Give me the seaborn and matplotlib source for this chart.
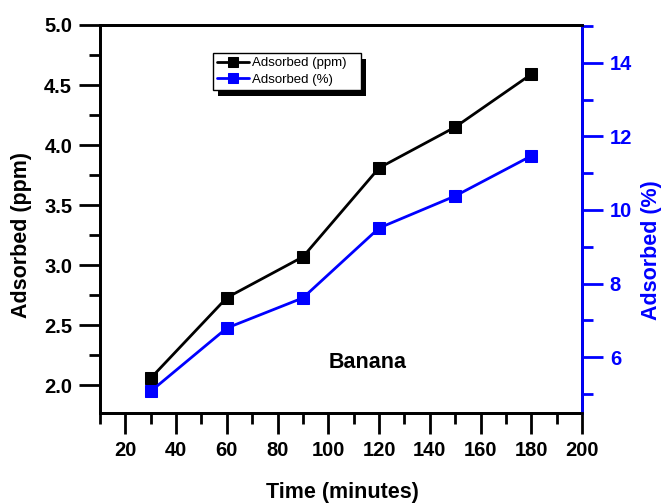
import matplotlib
matplotlib.use("Agg")
import matplotlib.pyplot as plt
import seaborn as sns
import pandas as pd
from matplotlib.ticker import MultipleLocator
from matplotlib.patches import Rectangle
from matplotlib.transforms import IdentityTransform

time_min = [30, 60, 90, 120, 150, 180]
adsorbed_ppm = [2.06, 2.73, 3.07, 3.81, 4.15, 4.59]
adsorbed_pct = [5.07, 6.79, 7.61, 9.51, 10.38, 11.47]

sns.set_style("ticks")
plt.rcParams['font.family'] = ['Liberation Sans', 'DejaVu Sans']
plt.rcParams['text.color'] = 'black'
plt.rcParams['axes.labelcolor'] = 'black'
plt.rcParams['xtick.color'] = 'black'
plt.rcParams['ytick.color'] = 'black'

BLUE = "#0000ff"
df = pd.DataFrame({"time": time_min, "ppm": adsorbed_ppm, "pct": adsorbed_pct})

fig = plt.figure(figsize=(6.62, 5.04), dpi=100)
ax = fig.add_axes([100/662, 1-413/504, 482/662, 388/504])
ax2 = ax.twinx()

sns.lineplot(data=df, x="time", y="ppm", ax=ax, color="black", marker="s",
             markersize=8, markeredgecolor="black", linewidth=2, label="Adsorbed (ppm)", legend=False)
sns.lineplot(data=df, x="time", y="pct", ax=ax2, color=BLUE, marker="s",
             markersize=8, markeredgecolor=BLUE, linewidth=2, label="Adsorbed (%)", legend=False)

ax.set_xlim(10, 200)
ax.set_ylim(1.77, 5.0)
ax2.set_ylim(4.48, 15.03)

ax.xaxis.set_minor_locator(MultipleLocator(10))
ax.yaxis.set_minor_locator(MultipleLocator(0.25))
ax2.yaxis.set_minor_locator(MultipleLocator(1))

ax.set_xticks([20, 40, 60, 80, 100, 120, 140, 160, 180, 200])
ax.set_yticks([2.0, 2.5, 3.0, 3.5, 4.0, 4.5, 5.0])
ax2.set_yticks([6, 8, 10, 12, 14])

for a in (ax, ax2):
    for s in a.spines.values():
        s.set_linewidth(2)
        s.set_color("black")
        s.set_visible(True)
ax2.spines['right'].set_color(BLUE)

TS = 14.5
ax.tick_params(axis='both', which='major', direction='out', length=15, width=2,
               labelsize=TS, pad=5, colors='black')
ax.tick_params(axis='both', which='minor', direction='out', length=8, width=2, colors='black')
ax2.tick_params(axis='y', which='major', direction='out', length=15, width=2,
                labelsize=TS, colors=BLUE, pad=5)
ax2.tick_params(axis='y', which='minor', direction='out', length=8, width=2, colors=BLUE)

for lab in ax.get_xticklabels() + ax.get_yticklabels() + ax2.get_yticklabels():
    lab.set_fontweight('bold')

LS = 15.5
ax.set_xlabel("Time (minutes)", fontsize=LS, fontweight='bold')
ax.set_ylabel("Adsorbed (ppm)", fontsize=LS, fontweight='bold')
ax2.set_ylabel("Adsorbed (%)", fontsize=LS, fontweight='bold', color=BLUE)
ax.xaxis.set_label_coords(0.502, -0.204)
ax.yaxis.set_label_coords(-0.162, 0.459)
ax2.yaxis.set_label_coords(1.145, 0.42)
ax.xaxis.label.set_va('center')
ax.yaxis.label.set_va('center')
ax2.yaxis.label.set_va('center')

ax.text(115.6, 2.19, "Banana", fontsize=15.5, fontweight='bold', ha='center', va='center')

h1, l1 = ax.get_legend_handles_labels()
h2, l2 = ax2.get_legend_handles_labels()
leg = ax2.legend(h1 + h2, [l + "   " for l in l1 + l2], loc='upper left',
                 bbox_to_anchor=(213/662, 1-53/504),
                 bbox_transform=fig.transFigure, fontsize=9.5, frameon=True, fancybox=False,
                 edgecolor='black', framealpha=1, handlelength=2.4, handletextpad=0.25,
                 borderpad=0.3, labelspacing=0.35, borderaxespad=0)
leg.get_frame().set_linewidth(1)
for lh in leg.get_lines():
    lh.set_markersize(7)

fig.canvas.draw()
bb = leg.get_window_extent()
shadow = Rectangle((bb.x0 + 5, bb.y0 - 6), bb.width, bb.height, transform=IdentityTransform(),
                   facecolor='black', edgecolor='none', zorder=leg.get_zorder() - 0.1)
ax2.add_patch(shadow)
shadow.set_clip_on(False)

fig.savefig("out.png", dpi=100)
